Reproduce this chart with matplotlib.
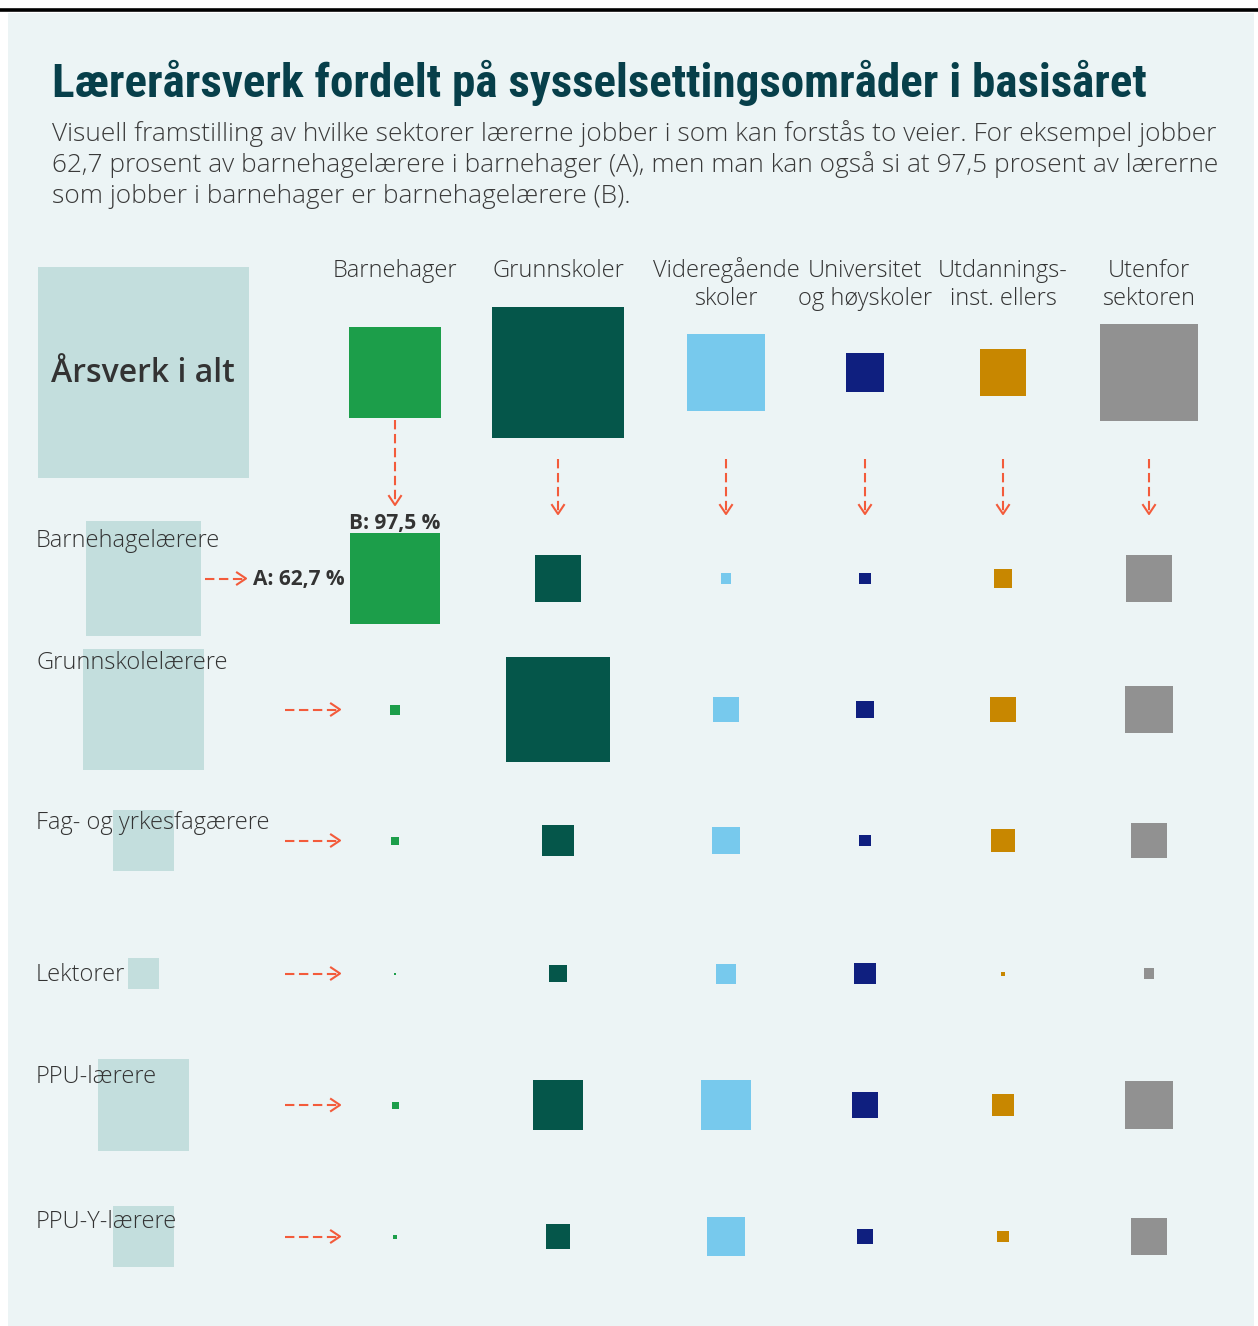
import matplotlib.pyplot as plt
from matplotlib.patches import Rectangle
import numpy as np

title = 'Lærerårsverk fordelt på sysselsettingsområder i basisåret'
subtitle_lines = [
    'Visuell framstilling av hvilke sektorer lærerne jobber i som kan forstås to veier. For eksempel jobber',
    '62,7 prosent av barnehagelærere i barnehager (A), men man kan også si at 97,5 prosent av lærerne',
    'som jobber i barnehager er barnehagelærere (B).',
]
sectors = ['Barnehager', 'Grunnskoler', 'Videregående\nskoler', 'Universitet\nog høyskoler',
           'Utdannings-\ninst. ellers', 'Utenfor\nsektoren']
teachers = ['Barnehagelærere', 'Grunnskolelærere', 'Fag- og yrkesfagærere', 'Lektorer',
            'PPU-lærere', 'PPU-Y-lærere']
total_label = 'Årsverk i alt'
label_a = 'A: 62,7 %'
label_b = 'B: 97,5 %'

# årsverk in relative units (square area)
total_all = 44500
total_by_sector = [8460, 17420, 5930, 1520, 2120, 9600]
total_by_teacher = [13230, 14640, 3720, 960, 8460, 3720]
cells = [
    [8280, 2120, 120, 140, 360, 2120],
    [100, 10820, 630, 320, 630, 2300],
    [64, 1020, 780, 140, 530, 1230],
    [4, 320, 400, 480, 16, 120],
    [49, 2500, 2500, 630, 480, 2400],
    [16, 580, 1520, 230, 140, 1300],
]

sector_colors = ['#1c9e4a', '#05564a', '#77c9ed', '#0f1f7f', '#c88700', '#919191']
total_color = '#c3dedd'
bg = '#ecf4f5'
arrow_color = '#f35b3b'
text_color = '#333333'

# layout (pixels)
col_x = [395, 558, 726, 865, 1003, 1149]
head_y = 372.5
row_y = [578.5, 709.5, 840.5, 973.5, 1105, 1236.5]
left_x = 143.5
label_base = [547, 669, 829, 981, 1083, 1228]

fig = plt.figure(figsize=(12.58, 13.26), dpi=100)
ax = fig.add_axes([0, 0, 1, 1])
ax.set_xlim(0, 1258)
ax.set_ylim(1326, 0)
ax.axis('off')

ax.plot([0, 1258], [10, 10], color='black', lw=2.6, solid_capstyle='butt')
ax.add_patch(Rectangle((8, 12.5), 1246, 1314, color=bg, lw=0))


def square(cx, cy, value, color):
    s = np.sqrt(value)
    ax.add_patch(Rectangle((cx - s / 2, cy - s / 2), s, s, color=color, lw=0))


def arrow(x0, y0, x1, y1):
    d = np.array([x1 - x0, y1 - y0], dtype=float)
    d /= np.hypot(*d)
    p = np.array([-d[1], d[0]])
    tip = np.array([x1, y1], dtype=float)
    ax.plot([x0, x1 - d[0]], [y0, y1 - d[1]], color=arrow_color, lw=1.5,
            linestyle=(0, (4.5, 2.2)), solid_capstyle='butt')
    a1 = tip - 9 * d + 6 * p
    a2 = tip - 9 * d - 6 * p
    ax.plot([a1[0], tip[0], a2[0]], [a1[1], tip[1], a2[1]], color=arrow_color, lw=1.5)


def fit_width(t, target):
    r = fig.canvas.get_renderer()
    w = t.get_window_extent(r).width
    t.set_fontsize(t.get_fontsize() * target / w)


fig.canvas.draw()

t = ax.text(52, 97, title, fontsize=36, fontweight='bold', color='#073f4a',
            family=['Roboto Condensed', 'Liberation Sans Narrow', 'Roboto'], va='baseline')
fit_width(t, 1098)

subs = []
for i, line in enumerate(subtitle_lines):
    subs.append(ax.text(52, 141 + i * 31, line, fontsize=17, color='#3a3a3a',
                        family=['Open Sans'], fontweight='light', va='baseline'))
fit_width(subs[0], 1162)
for s in subs[1:]:
    s.set_fontsize(subs[0].get_fontsize())

# totals column
square(left_x, head_y, total_all, total_color)
ax.text(left_x - 1, 374, total_label, fontsize=23, fontweight='semibold', color=text_color,
        family=['Open Sans'], ha='center', va='center')

for j, name in enumerate(sectors):
    for k, line in enumerate(name.split('\n')):
        ax.text(col_x[j], 277 + k * 28, line, fontsize=17, color=text_color,
                family=['Open Sans'], fontweight='light', ha='center', va='baseline')
    square(col_x[j], head_y, total_by_sector[j], sector_colors[j])
    if j == 0:
        arrow(col_x[j], 420, col_x[j], 505)
    else:
        arrow(col_x[j], 459, col_x[j], 514)

for i, name in enumerate(teachers):
    square(left_x, row_y[i], total_by_teacher[i], total_color)
    ax.text(36, label_base[i], name, fontsize=17, color=text_color,
            family=['Open Sans'], fontweight='light', va='baseline')
    if i == 0:
        arrow(205, row_y[i], 246, row_y[i])
    else:
        arrow(285, row_y[i], 340, row_y[i])
    for j in range(len(sectors)):
        square(col_x[j], row_y[i], cells[i][j], sector_colors[j])

ax.text(253, 579, label_a, fontsize=15, fontweight='bold', color=text_color,
        family=['Open Sans'], va='center')
ax.text(col_x[0], 529, label_b, fontsize=15, fontweight='bold', color=text_color,
        family=['Open Sans'], ha='center', va='baseline')

fig.savefig('out.png', dpi=100, facecolor='white')
